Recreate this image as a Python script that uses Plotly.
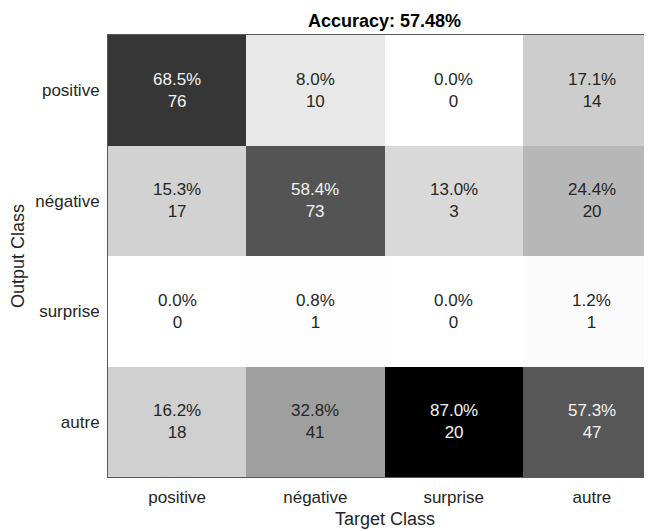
import plotly.graph_objects as go

target_classes = ["positive", "négative", "surprise", "autre"]
output_classes = ["positive", "négative", "surprise", "autre"]

# rows = output class, cols = target class
counts = [
    [76, 10, 0, 14],
    [17, 73, 3, 20],
    [0, 1, 0, 1],
    [18, 41, 20, 47],
]
percents = [
    [68.5, 8.0, 0.0, 17.1],
    [15.3, 58.4, 13.0, 24.4],
    [0.0, 0.8, 0.0, 1.2],
    [16.2, 32.8, 87.0, 57.3],
]
accuracy = 57.48

# page body adds an 8px offset
W, H = 644, 523
L, T = 100, 27
BOTTOM = 469
plot_w = W - L
plot_h = BOTTOM - T
col_w = 138.25

xi = list(range(len(target_classes)))
yi = list(range(len(output_classes)))

fig = go.Figure()
fig.add_trace(go.Heatmap(
    z=percents, x=xi, y=yi,
    colorscale=[[0, "#ffffff"], [1, "#000000"]],
    zmin=0, zmax=max(max(r) for r in percents),
    showscale=False, hoverinfo="skip",
))

FONT = "Liberation Sans, Arial, sans-serif"
annotations = []
for r in range(len(output_classes)):
    for c in range(len(target_classes)):
        p = percents[r][c]
        col = "#f2f2f2" if p > 45 else "#262626"
        annotations.append(dict(
            x=xi[c], y=yi[r], xref="x", yref="y",
            text=f"{p:.1f}%<br>{counts[r][c]}", showarrow=False,
            font=dict(family=FONT, size=17, color=col),
        ))

center_paper = (4 * col_w / 2) / plot_w
annotations.append(dict(
    x=center_paper, y=1, xref="paper", yref="paper", yanchor="middle", yshift=14,
    text=f"<b>Accuracy: {accuracy:.2f}%</b>", showarrow=False,
    font=dict(family=FONT, size=18, color="#000000"),
))
annotations.append(dict(
    x=center_paper, y=0, xref="paper", yref="paper", yanchor="middle", yshift=-42,
    text="Target Class", showarrow=False,
    font=dict(family=FONT, size=18, color="#262626"),
))
annotations.append(dict(
    x=(10 - L) / plot_w, y=0.5, xref="paper", yref="paper",
    xanchor="center", yanchor="middle", textangle=-90,
    text="Output Class", showarrow=False,
    font=dict(family=FONT, size=18, color="#262626"),
))

x_right = -0.5 + plot_w / col_w

fig.update_layout(
    width=W, height=H,
    margin=dict(l=L, r=0, t=T, b=H - BOTTOM),
    plot_bgcolor="white", paper_bgcolor="white",
    annotations=annotations,
    font=dict(family=FONT, size=17, color="#262626"),
)
fig.update_xaxes(
    range=[-0.5, x_right], tickvals=xi, ticktext=target_classes,
    showgrid=False, zeroline=False, showline=True, mirror=True,
    linecolor="#5a5a5a", linewidth=1, ticks="", ticklabelstandoff=5,
    tickfont=dict(family=FONT, size=17, color="#262626"),
)
fig.update_yaxes(
    range=[3.5, -0.5], tickvals=yi, ticktext=output_classes,
    showgrid=False, zeroline=False, showline=True, mirror=False,
    linecolor="#5a5a5a", linewidth=1, ticks="", ticklabelstandoff=4,
    tickfont=dict(family=FONT, size=17, color="#262626"),
)

fig.write_html("out.html")
